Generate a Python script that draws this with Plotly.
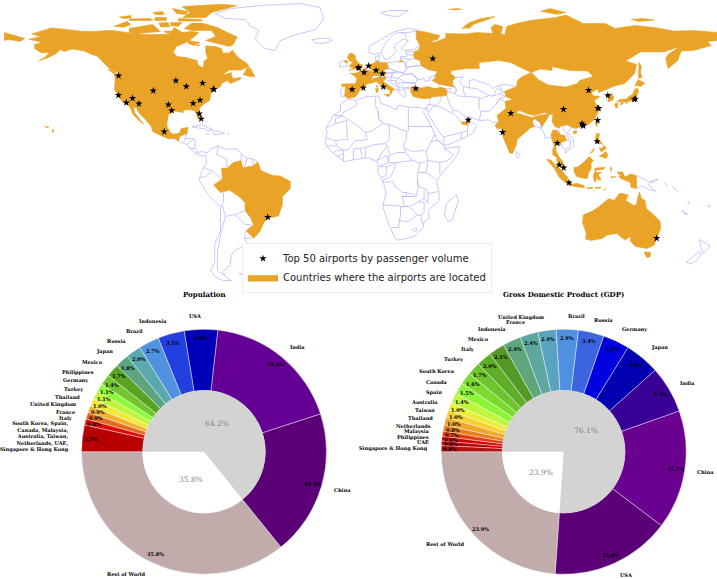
import math
import plotly.graph_objects as go

# ---------- pie data ----------
POP_LABELS = ["Rest of World", "China", "India", "USA", "Indonesia", "Brazil", "Russia", "Japan", "Mexico",
              "Philippines", "Germany", "Turkey", "Thailand", "United Kingdom", "France", "Italy",
              "South Korea, Spain,<br>Canada, Malaysia,<br>Australia, Taiwan,<br>Netherlands, UAE,<br>Singapore & Hong Kong"]
POP_VALUES = [35.8, 19.2, 18.2, 4.4, 3.5, 2.7, 2.0, 1.8, 1.7, 1.4, 1.1, 1.1, 1.0, 0.9, 0.9, 0.8, 3.5]
POP_INNER = [35.8, 64.2]

GDP_LABELS = ["Rest of World", "USA", "China", "India", "Japan", "Germany", "Russia", "Brazil", "United Kingdom",
              "France", "Indonesia", "Mexico", "Italy", "Turkey", "South Korea", "Canada", "Spain", "Australia",
              "Taiwan", "Thailand", "Netherlands", "Malaysia", "Philippines", "UAE", "Singapore & Hong Kong"]
GDP_VALUES = [23.9, 15.8, 15.7, 6.2, 4.6, 3.5, 3.4, 2.9, 2.4, 2.4, 2.4, 2.1, 2.0, 1.7, 1.6, 1.5, 1.4, 1.0, 1.0,
              1.0, 0.8, 0.7, 0.6, 0.6, 0.8]
GDP_INNER = [23.9, 76.1]

POP_COLORS = ["#C2ABAB", "#5C0078", "#650095", "#0000B8", "#2140DE", "#5092E0", "#5CA8B0", "#5BA67F", "#5AA321",
              "#72C62E", "#8EF93A", "#BEF53A", "#EEE93A", "#F5B02E", "#E36A1C", "#E00808", "#B80000"]
GDP_COLORS = ["#C2ABAB", "#5C0078", "#6A0090", "#3A0095", "#0000B0", "#0000E0", "#3B65DF", "#5090E0", "#5AA3C0",
              "#5CA8A0", "#5FA67C", "#549828", "#5FAE28", "#6FC42D", "#7ADA30", "#8CF53A", "#BFF53A", "#E7EF37",
              "#F5D030", "#F0A82A", "#E88020", "#E0400F", "#D00000", "#C00000", "#B01010"]

# ---------- airports (lon, lat) ----------
AIRPORT_LON = [-122.3, -122.4, -118.4, -115.2, -112.0, -104.7, -97.0, -95.3, -93.2, -87.9, -79.6, -84.4, -80.9,
               -73.8, -74.2, -81.3, -80.3, -99.1, -46.5, -0.45, -0.2, 2.5, 4.76, 8.57, 11.8, -3.6, 2.1, 12.25,
               28.8, 37.4, 55.4, 77.1, 72.9, 116.6, 103.9, 121.8, 121.3, 113.3, 113.9, 113.8, 121.2, 126.4,
               139.8, 140.4, 100.7, 121.0, 101.7, 104.0, 106.65, 151.2]
AIRPORT_LAT = [47.4, 37.6, 33.9, 36.1, 33.4, 39.9, 32.9, 30.0, 44.9, 42.0, 43.7, 33.6, 35.2, 40.6, 40.7, 28.4, 25.8,
               19.4, -23.4, 51.5, 51.15, 49.0, 52.3, 50.0, 48.35, 40.5, 41.3, 41.8, 41.0, 55.9, 25.25, 28.6, 19.1,
               40.1, 30.6, 31.1, 31.2, 23.4, 22.3, 22.6, 25.1, 37.5, 35.55, 35.8, 13.7, 14.5, 2.75, 1.35, -6.1, -33.9]

# ---------- filled countries (lon, lat) ----------
NORTH_AMERICA = [(-168,65.6),(-162,67),(-166.5,68.3),(-156.5,71.3),(-148,70.4),(-141,69.6),(-135,69.5),(-128,70),(-125,70),(-115,68.5),(-108,68),(-100,68),(-96,68.2),(-94,71.5),(-90,69),(-85,69.5),(-81.5,69),(-85,66),(-87,64.5),(-93,62),(-94.5,59),(-92.5,57),(-88,56.5),(-82.5,55),(-82,53),(-80,51.5),(-79,52),(-79,54.5),(-77,56),(-78,59),(-78,62.3),(-73,62),(-70,61),(-69.5,58.8),(-66,58.8),(-64.5,60.2),(-61.5,56.5),(-57,53.5),(-56,52),(-60,50.3),(-66,50.2),(-70,47.5),(-65,49),(-65,47.5),(-64,46),(-60,46.5),(-60.5,45.5),(-65.5,43.5),(-66.5,44.5),(-67,45),(-70,43.5),(-70.5,41.8),(-74,40.6),(-75.5,38),(-76,35),(-78,33.9),(-81,31.5),(-81.5,30),(-80,26.8),(-80.5,25.2),(-81.8,26),(-82.8,28.5),(-84,30),(-86,30.4),(-89.5,30.2),(-89.3,29),(-93.8,29.7),(-97,28),(-97.5,25),(-97.8,22.3),(-96,19),(-94.5,18.2),(-91.5,18.5),(-90.5,21),(-87,21.5),(-87.5,18.5),(-89.1,17.9),(-91,17.2),(-92,14.6),(-94,16),(-97,15.9),(-101,17.5),(-105,19.5),(-105.7,22),(-108.5,25.3),(-112.5,29.5),(-113,31.3),(-114.7,31.7),(-114.2,29),(-111.5,25.5),(-109.5,23.2),(-112,25),(-115,28),(-116,30.5),(-117.1,32.5),(-120.6,34.5),(-122.5,37.5),(-124.4,40.4),(-124,46),(-124.7,48.4),(-122.5,48.2),(-122.8,49.1),(-127,51),(-130.5,54.5),(-133,57),(-137,58.5),(-140,59.8),(-146,60.8),(-150,59.5),(-152,60.5),(-154,58.5),(-158,56.5),(-163,54.7),(-160,56.5),(-157.5,58.8),(-162,59),(-165,61),(-165,63),(-161,64),(-168,65.6)]
VANCOUVER = [(-128,50.8),(-125,50),(-123.5,48.5),(-125.5,48.8)]
NEWFOUNDLAND = [(-59,47.7),(-57,51.2),(-55.5,51.5),(-53,47),(-55.5,46.9)]
BAFFIN = [(-80,73.7),(-72,71.5),(-67,69),(-62,66.8),(-64,63),(-66,62),(-72,63.5),(-78,65),(-73,67),(-75,70),(-85,70),(-89,71),(-85,73.7)]
VICTORIA = [(-117,71),(-105,73),(-101,69.5),(-113,68.5),(-117,69)]
BANKS = [(-125,72),(-118,74.5),(-116,73),(-120,71.5)]
ELLESMERE = [(-90,76.5),(-78,76.5),(-75,79),(-62,82.5),(-70,83.1),(-90,82),(-86,79)]
DEVON = [(-92,76),(-80,75.5),(-80,74.7),(-92,74.7)]
MELVILLE = [(-117,75.8),(-106,76),(-105,75),(-117,75)]
AXEL = [(-95,81),(-87,79.5),(-88,78),(-93,78.5)]
SOMERSET = [(-96,74),(-90,74),(-92,72),(-96,72.5)]
SOUTHAMPTON = [(-87,65),(-81,64),(-84,62.5),(-87,63.5)]
PRINCE_PATRICK = [(-122,76.8),(-116,77.5),(-116,76.3),(-120,76)]
BATHURST = [(-104,76.5),(-98,76.5),(-98,75),(-104,75)]
ELLEF = [(-105,79),(-100,79.5),(-99,78),(-104,78)]
PRINCE_OF_WALES = [(-102,73.8),(-97,74),(-96.5,71.8),(-101,71.8)]
KING_WILLIAM = [(-99,69.7),(-95,69.7),(-95.5,68.6),(-98.5,68.8)]
COATS = [(-83,62.9),(-81,62.8),(-82,62.1)]
HAWAII = [(-156,20.8),(-155,19.7),(-155.7,19),(-156,19.8)]
HAWAII2 = [(-160,22.2),(-158,21.7),(-158,21.3),(-159.5,21.8)]
CHUKOTKA = [(-180.5,69),(-175,67.5),(-170,66),(-172.5,64.5),(-178,65.5),(-180.5,65)]
RUSSIA = [(29,69.7),(33,69.4),(41,67.5),(40,65.5),(36,64.5),(35,66),(33,66.5),(38,64),(44,66.2),(44,68.5),(54,68.3),(60,69),(68,68.5),(67,71.5),(69,73),(73,72),(72,68),(74,68),(75,72),(80,73.5),(87,75),(100,76.5),(105,77.7),(113,74),(113,73.5),(125,73.5),(130,71),(140,72.5),(150,71.5),(160,69.7),(170,70),(182,69),(182,65),(177,64.5),(179,62.5),(170,60),(164,59.8),(163,58),(162,55),(157,51),(155.8,56),(157,58),(163,62),(155,59.3),(143,59.3),(135.5,54.7),(141,53),(140,48.5),(135,43.5),(131,42.5),(131,43),(131,45),(135,48.4),(131,47.7),(127.5,49.8),(125.5,53),(120,53.3),(116,49.8),(107,50),(98,52),(98,50),(92,50.7),(87.5,49),(83,51),(77,54),(71,55),(61,54),(61,51),(55,51),(47,50),(46.5,48.5),(49,46.5),(47.5,45),(47.5,43),(48.5,41.8),(44,42.5),(40,43.5),(37,45),(39.5,47),(38.2,47.1),(40,49.5),(35,50.5),(31.5,52.5),(31,55),(28,56),(27.7,57.5),(28,59.5),(30,60),(31,62.5),(29,66)]
KALININGRAD = [(19.8,54.4),(22.7,54.4),(21,55.3)]
NOVAYA = [(52,71),(56,74),(62,76),(69,77),(66,75.8),(58,73),(56,71)]
FRANZ = [(45,80.5),(50,81),(52,80.6),(48,80.3)]
SEVERNAYA = [(92,79.5),(97,81),(105,79),(100,78)]
SIBERIAN = [(138,75.5),(144,76),(150,75.3),(142,74.5)]
SAKHALIN = [(142,54.3),(143.5,52),(143,49),(143.8,46.5),(142,46),(142,50)]
CHINA = [(73.7,39.5),(80,42),(80.5,45),(83,47),(87.5,49),(91,45.5),(96,42.8),(105,41.7),(111,43.5),(112,45),(119,47),(116,49.8),(120,53.3),(125.5,53),(127.5,49.8),(131,47.7),(135,48.4),(131,45),(131,43),(130.5,42.5),(128,41.5),(124.5,40),(121.5,39),(121.5,40.8),(118,39),(119,37.3),(122.5,37),(119.5,35),(120.5,33),(122,31.5),(121.5,29),(119.5,25.5),(116.5,23),(113.5,22),(110,21),(108,21.6),(106,22.8),(103,22.5),(101.5,21.2),(99.5,22),(98,24.5),(98.5,27.7),(94,29),(89,27.5),(85,28.5),(81,30.2),(78.7,31.5),(78,35.5),(74.5,37)]
HAINAN = [(108.7,19.5),(110.5,20),(110.5,18.8),(109,18.2)]
TAIWAN = [(121,25),(122,25),(120.8,22),(120.1,23.5)]
INDIA = [(74,34.5),(78,35.5),(78.7,31.5),(81,30.2),(80,28.8),(88,26.5),(89,26.8),(92,27.8),(97,28.2),(95,25),(93,22),(92,24),(89,26),(88,24.5),(89,22),(87,21.3),(85,19.5),(80.3,15.5),(80,13),(78,8.5),(76.5,8.8),(73,17),(72.7,21),(70,21),(69,22.5),(71,24.5),(70,27.5),(74.5,31)]
THAILAND = [(98,20),(100.5,20.3),(102,18),(104.5,17.5),(105.5,15),(102.5,14),(102,12.5),(101,13),(100,13.4),(100,10),(101.5,7),(102,6.2),(100.5,6.5),(98.3,8),(98.5,11),(99.3,12),(98.2,15),(97.5,18)]
MALAY = [(100.2,6.5),(102,6.2),(103.5,4.5),(104.2,1.4),(103.3,1.5),(101.3,3),(100.3,5.5)]
SUMATRA = [(95.3,5.6),(97.5,5.2),(100,2.5),(103,0),(104.5,-2),(106,-3.2),(105.8,-5.8),(104.5,-5.8),(102,-3.8),(100.4,-1),(98.7,1.7),(96,4.5)]
JAVA = [(105.2,-6.8),(106.5,-6),(108.5,-6.7),(110.8,-6.5),(112.7,-7),(114.5,-7.8),(114.3,-8.6),(110,-8.1),(106.5,-7.4)]
SUNDA = [(115.5,-8.7),(119,-8.4),(118.5,-9),(116,-9)]
FLORES = [(120,-8.5),(123,-8.3),(122.5,-8.9),(120,-8.9)]
TIMOR = [(124,-10),(125.5,-9),(125,-9.8)]
BORNEO = [(109,1.5),(111,1.7),(113,3.2),(115,5),(117,7),(119,5),(117.8,3.5),(118,1),(116.5,-1.5),(116,-4),(114.5,-4),(110.5,-3),(109.2,-0.5)]
SULAWESI = [(119.5,0.7),(120.5,1.3),(125,1.5),(124,0.4),(120.8,0.4),(120,-0.8),(121,-1),(123.3,-0.9),(121.5,-2),(123,-4.8),(121.5,-4.7),(120.5,-3),(120.4,-5.6),(119.5,-5.4),(119,-2.8),(119.8,-0.5)]
HALMAHERA = [(127.5,2),(128.5,1),(127.8,-0.7)]
SERAM = [(128,-3),(130.5,-3.2),(128,-3.6)]
PAPUA_WEST = [(131,-0.8),(134,-0.8),(135,-3.3),(138,-1.7),(141,-2.6),(141,-9.1),(138,-8.3),(138,-6),(133,-4),(132,-2.8),(133.8,-2.3),(132,-2)]
LUZON = [(120.5,18.5),(122.2,18.4),(121.6,15.5),(124,13),(122,13.7),(120.5,14),(120,16)]
MINDANAO = [(122,7),(125.5,9.5),(126.5,7.5),(125.5,6),(124,6.5)]
VISAYAS = [(122,11.5),(123,11),(125,12.5),(125.5,11),(123.5,9.5),(122.4,9.8)]
PALAWAN = [(117.3,8.4),(119.5,11.3),(119.3,10),(117.8,8.5)]
HONSHU = [(130.9,34),(132.5,35.5),(136,35.8),(137,37),(139,38),(140,40.5),(141.4,41.3),(142,39.5),(140.9,36.5),(140,35),(137,34.6),(135.7,33.5),(135,34.5),(132.5,34.2)]
HOKKAIDO = [(140,42),(141.7,45.4),(145.3,43.7),(143,42),(141,42.5)]
KYUSHU = [(129.7,33.3),(131.5,33.6),(131.3,31.4),(130.3,31.2)]
SHIKOKU = [(132.5,33.2),(134.5,34.2),(134,33.3),(132.8,32.8)]
SOUTH_KOREA = [(126.2,37.7),(128.4,38.6),(129.4,36.5),(129,35.2),(126.5,34.4),(126.5,36.5)]
AUSTRALIA = [(114,-22),(113.5,-26),(115.5,-31.5),(115,-34.3),(118,-35),(123.5,-34),(126,-32.3),(131,-31.5),(135,-34.8),(138,-33),(138,-35.5),(140.5,-38),(146.3,-39),(150,-37.3),(151.2,-34),(153.3,-29),(153,-25.5),(149.5,-22),(146,-19),(145.3,-15),(143.5,-14),(142.5,-10.8),(141.7,-13),(141,-17),(139.5,-17.5),(135.5,-15),(136.8,-12.2),(132.5,-11.3),(129.5,-15),(127,-14),(125,-15.5),(122,-18),(119,-20)]
TASMANIA = [(144.7,-40.8),(148.3,-40.9),(147.8,-43.2),(146,-43.5)]
TURKEY = [(26,40.2),(29,41.2),(31.5,41.2),(35,42),(38,41),(41.5,41.5),(43.5,41),(44.8,39.7),(44.5,37.5),(42,37.2),(36.7,36.8),(36,36),(32.5,36),(30.5,36.3),(27.5,37),(26.3,39)]
THRACE = [(26.3,41.8),(28,42),(29,41.2),(26.2,40.2)]
SPAIN = [(-9.2,43.2),(-1.8,43.4),(3.2,42.4),(0.5,40.7),(-0.3,39),(-2,36.8),(-5.5,36),(-7.4,37.2),(-7,42),(-8.8,42)]
FRANCE = [(-4.7,48.5),(-1.5,48.7),(1.5,50.2),(2.5,51.1),(4.2,50),(8.2,49),(7.5,47.5),(6,46.2),(7.5,44),(4,43.4),(3.2,42.4),(-1.8,43.4),(-1.2,46),(-2.5,47.3)]
CORSICA = [(9,42.9),(9.5,42),(9,41.4),(8.6,42)]
GERMANY = [(6,51),(7,53.5),(9,54.8),(11,54),(14.2,53.9),(15,51),(12.2,50.3),(13.8,48.7),(13,47.5),(7.5,47.6),(8.2,49),(6.2,50)]
NETHERLANDS = [(3.5,51.4),(4.7,53),(7,53.4),(6,51),(5,51.4)]
BRITAIN = [(-5.5,50),(-3,50.6),(1.4,51.2),(1.7,52.8),(-0.2,53.5),(-1.7,55.5),(-2,57.5),(-3.5,58.6),(-5,58.6),(-6,56.5),(-4.8,54.8),(-3,54),(-4.5,53.2),(-5,51.8),(-3,51.4)]
N_IRELAND = [(-7.5,55),(-5.6,54.7),(-6,54),(-7.8,54.3)]
ITALY = [(7,44),(7,45.9),(10,46.7),(13.7,46.5),(12.3,44.3),(13.7,43.5),(16.2,41.8),(18.5,40.2),(16.8,40.4),(16.8,38.9),(15.8,38),(15.7,40),(12.3,41.7),(10.3,43.2),(8.8,44.4)]
SICILY = [(12.5,38),(15.6,38.2),(15.1,36.7)]
SARDINIA = [(8.2,41),(9.7,41),(9.6,39.2),(8.5,39)]
UAE = [(51.6,24.2),(54,24.2),(56.2,26),(56.3,24.9),(55.2,22.7),(52.6,22.9)]
BRAZIL = [(-60,5),(-64,4),(-67,1.2),(-70,1.2),(-69.5,-4.2),(-74,-7.2),(-70.5,-11),(-66,-9.8),(-60.5,-13.5),(-58,-16.3),(-58,-20),(-55,-24),(-54.5,-25.7),(-53.7,-27),(-57.5,-30.2),(-53.5,-33.7),(-50.5,-30.5),(-48.5,-26),(-46.5,-24),(-41,-22.7),(-39,-17),(-39,-13),(-35,-9),(-35,-5.5),(-40,-2.8),(-44,-2.5),(-50,0),(-51.5,4.3),(-54,2.3),(-56.5,1.9),(-59,1.3)]

FILLED = [NORTH_AMERICA, VANCOUVER, NEWFOUNDLAND, BAFFIN, VICTORIA, BANKS, ELLESMERE, DEVON, MELVILLE, AXEL, SOMERSET,
          SOUTHAMPTON, PRINCE_PATRICK, BATHURST, ELLEF, PRINCE_OF_WALES, KING_WILLIAM, COATS,
          HAWAII, HAWAII2, CHUKOTKA, RUSSIA, KALININGRAD, NOVAYA, FRANZ, SEVERNAYA, SIBERIAN, SAKHALIN,
          CHINA, HAINAN, TAIWAN, INDIA, THAILAND, MALAY, SUMATRA, JAVA, SUNDA, FLORES, TIMOR, BORNEO, SULAWESI,
          HALMAHERA, SERAM, PAPUA_WEST, LUZON, MINDANAO, VISAYAS, PALAWAN, HONSHU, HOKKAIDO, KYUSHU, SHIKOKU,
          SOUTH_KOREA, AUSTRALIA, TASMANIA, TURKEY, THRACE, SPAIN, FRANCE, CORSICA, GERMANY, NETHERLANDS, BRITAIN,
          N_IRELAND, ITALY, SICILY, SARDINIA, UAE, BRAZIL]

# ---------- unfilled outlines (lon, lat) ----------
OUTLINES = [
    [(-73,78.5),(-65,81),(-50,82.5),(-30,83.5),(-20,81.5),(-18,76),(-22,70.5),(-32,68),(-40,65),(-43,60),(-48,61),(-53,66),(-51,70),(-55,72),(-58,75.5),(-68,76),(-73,78.5)],
    [(-24,65.5),(-20,66),(-15,66.2),(-13.7,65),(-18,63.5),(-22.5,63.9),(-24,65.5)],
    [(11,79),(16,80),(25,80),(20,77),(14,77.5),(11,79)],
    [(5,59),(5,62),(12,66),(18,69.5),(25,71),(31,70),(29,69.7),(29,66),(31,62.5),(28,60.5),(23,60),(21.5,61),(25,65),(22,65.8),(17.5,62),(19,60),(16.5,57),(14.3,55.5),(12.7,56),(11,59),(8,58),(5,59)],
    [(11,59),(12,61),(14,64.5),(18,68.5),(20.5,69),(25,69),(29,69.7)],
    [(24,66),(23.5,68),(20.5,69)],
    [(8,55),(8.5,57),(10.5,57.5),(10,55),(8,55)],
    [(-10,54),(-8,55.2),(-6,53.5),(-6.3,52.2),(-10,51.6),(-10,54)],
    [(-8.8,42),(-9.5,38.7),(-8.8,37),(-7.4,37.2)],
    [(2.5,51.1),(3.5,51.4),(5,51.4),(6,51),(6.2,50),(4.2,50),(2.5,51.1)],
    [(6,46.2),(7.5,47.5),(9.5,47.5),(10.4,46.8),(9,46),(7,45.9),(6,46.2)],
    [(9.5,47.5),(13,47.5),(13.8,48.7),(17,48.8),(16.2,46.8),(13.7,46.5),(10,46.7)],
    [(14.2,53.9),(19,54.4),(23,54.3),(24,50.5),(22.5,49),(19,49.5),(15,51)],
    [(12.2,50.3),(15,51),(19,49.5),(17,48.8),(13.8,48.7)],
    [(17,48.8),(22.5,49),(22.2,48),(20,46.2),(16.5,46.5),(17,48.8)],
    [(22.2,48),(27,48.3),(29.7,45.3),(28.5,43.7),(25,43.7),(22.5,44.2),(20.5,46)],
    [(22.5,44.2),(28.5,43.7),(28,42),(26.3,41.8),(23,41.3)],
    [(13.7,45.5),(15,44.5),(18.5,42.5),(19.5,41.5),(19.3,40.3),(20.8,40),(23,41.3)],
    [(19.3,39.8),(21,38.3),(22.8,36.5),(23.7,38),(22.8,40.3),(24,40.8),(26.3,41)],
    [(16.5,46.5),(15.5,45),(17,45),(19,44.8),(20,46.2)],
    [(19,44.8),(19,43),(20,42),(20.8,40)],
    [(19,43),(22,44)], [(20,42),(23,41.3)], [(22.5,44.2),(22.3,42.5)],
    [(24,50.5),(22.5,49),(22.2,48),(27,48.3),(29.7,45.3),(33,46),(33.5,44.5),(36.5,45.3),(35,46.3),(38.2,47.1),(40,49.5),(35,50.5),(31.5,52.5),(24,51.7),(24,50.5)],
    [(23.5,53.7),(26,55.5),(28,56),(31,55),(31.5,52.5),(24,51.7),(23.5,53.7)],
    [(21,55.3),(21,57),(24,57),(24.2,58.3),(23.5,59.2),(28,59.5),(27.7,57.5)],
    [(26,55.5),(21,56.2)], [(24.3,58),(27.5,57.6)], [(27,48.3),(30,46)],
    [(40,43.5),(48.5,41.8),(49.5,40.3),(48.8,38.5),(46,39),(44.8,39.7),(43.5,41),(41.5,41.5),(40,43.5)],
    [(43.5,41),(46.5,41),(46,39)],
    [(47.5,45),(49,46.5),(53,46.8),(51,44.5),(53,42),(53,39.5),(54,37),(50,37.3),(48.8,38.5),(49.5,40.3),(48.5,41.8),(47.5,43),(47.5,45)],
    [(53,42),(56,41.3),(56,45),(58.5,45.5),(61,44.5),(66,43),(68,41),(71,42.5),(74,43),(80,42)],
    [(56,41.3),(60,41),(62,39.5),(66,37.5),(61,35.5),(61,36.6),(54,37)],
    [(66,37.5),(68,37.2),(70,41),(73,40),(71,42.5)],
    [(68,37.2),(71.5,38.5),(73.7,39.5)],
    [(61,35.5),(61,31),(62,29.5),(66.5,29.8),(69.5,33),(71.5,36),(74.5,37),(71.5,38.5)],
    [(61,25),(62,29.5)], [(71,24.5),(68,23.7),(66,25.3),(61,25)],
    [(69.5,33),(71.5,36),(74,34.5)],
    [(44.5,37.5),(45,36),(46,33),(48,30),(50,30),(54,26.7),(57,26.5),(61,25)],
    [(42,37.2),(41,34.5),(39,32.5),(42,31.5),(46.5,29),(48,30)],
    [(36.7,36.8),(36,35),(35.7,34.5),(36,33),(39,32.5)],
    [(35,29.5),(34.3,31.3),(35,33),(36,33)], [(39,32.5),(37,31.5),(36,30),(35,29.5)],
    [(35,29.5),(35,28),(37,25),(38.8,22),(40,20),(43,16.7),(43,12.8),(45,12.8),(52,15.8),(55,17),(58,19),(59.8,22.5),(58,23.8),(56.3,24.9)],
    [(46.5,29),(48.5,28),(50,26.5),(51.6,24.2)],
    [(55.2,22.7),(55,20),(52,19),(48.8,18.2),(45,17.4),(43,16.7)], [(52,19),(52,15.8)], [(55,20),(55,17)],
    [(92,24),(93,22),(92.3,21),(94.3,18),(94.5,16),(97,16.8),(98.2,15),(99.3,12),(98.5,10)],
    [(88,24.5),(89,26),(92,24),(92.3,21),(90,22),(89,22),(88,24.5)],
    [(103,22.5),(106,22.8),(108,21.6),(105.8,19),(108.8,15.5),(109.2,12),(106.7,10.5),(105,8.7),(104.8,10.5),(102.8,12),(102.5,14)],
    [(105.5,15),(107.5,14.5),(107,11.5),(104.8,10.5)],
    [(101.5,21.2),(102,18)], [(107.5,14.5),(105,19),(103,22.5)],
    [(80,9.7),(81.8,7.5),(80.5,6),(79.8,8),(80,9.7)],
    [(-5.8,35.8),(-1.8,35),(3,36.8),(10,37.3),(11,33.5),(15,32.3),(19,30.3),(20,32.7),(25,31.7),(31,31.5),(32.5,31),(34.3,31.3),(32.5,29.5),(34,27),(35.5,24),(37.2,21),(39.5,15.5),(43,12.5),(43.5,11),(51,12),(50,8),(47,4),(42,-1.5),(39.3,-6),(40.5,-10.5),(40.7,-15),(35,-20),(35.5,-24),(32.8,-26),(32.5,-28.5),(28,-33),(20,-34.8),(18.4,-34),(15,-27),(12,-18),(13.7,-11),(12,-5),(9.5,-1),(9.5,4),(8.5,4.7),(4.5,6.3),(1,6),(-4,5.2),(-7.5,4.5),(-13,8.5),(-16.8,12.5),(-17.4,14.7),(-16.2,19),(-17,21),(-13,27.7),(-9.5,30),(-9.5,33),(-5.8,35.8)],
    [(-1.8,35),(-1.2,32.5),(-5,30.5),(-8.7,28.7),(-8.7,27.3),(-13,27.7)],
    [(-8.7,27.3),(-12,26),(-12,23.4),(-17,21)],
    [(-8.7,27.3),(-4.8,25),(1,21),(3.2,19),(6,19.5),(12,23.5),(9.8,26),(9.5,30),(8,33),(8.5,36.9)],
    [(-12,23.4),(-6.5,25),(-6,15.5),(-12,15),(-16.5,16.2)],
    [(3.2,19),(4,15.5),(1,15),(-2,15),(-5.5,10.5),(-8,10.2),(-11.5,12.3),(-12,15)],
    [(9.5,30),(10,25.5),(12,23.5),(15,23),(24,19.5),(25,20),(25,31.7)],
    [(25,22),(37,22)],
    [(15,23),(15.5,16),(13.5,13.5),(14,12.5),(15,10),(15.5,7.5),(19,9),(23.5,9),(22.5,13),(24,15.5),(24,19.5)],
    [(3,6.3),(3.5,11.7),(8,13),(13.5,13.5)], [(14,12),(9,5)],
    [(1.5,6.2),(0.5,11),(3.5,11.7)], [(-3,5),(-2.8,11),(0.5,11)], [(-8,4.5),(-8,10.2)], [(-11.5,7),(-8,8.5)],
    [(-13.5,9),(-11,10),(-8,10.2)], [(-16.7,12.4),(-11.5,12.3)],
    [(38.5,18),(36.5,14.5),(34,9),(35,5),(41,4),(45,5),(48,8),(43,11)],
    [(23.5,9),(27,5),(31,3.7),(35,5)], [(23.5,11),(27,9.5),(33,10),(34,9)], [(36.5,14.5),(40,15),(43,12.5)],
    [(35,5),(34,-1),(37.7,-3.5),(39.5,-4.5)], [(41,-1.7),(41,4)],
    [(31,3.7),(29.8,-1),(34,-1)], [(29.8,-1),(29.5,-4.5),(30.5,-8.2),(34.5,-9.5),(34.8,-11.5),(40.5,-10.5)],
    [(12,-5),(13,-6),(17,-5.5),(18,-8),(22,-11),(24,-11),(28,-12),(29,-13),(30,-8.5),(29.5,-4.5)],
    [(27,5),(19,4),(18,1),(16,-3),(12,-5)],
    [(15,7.5),(15,4),(19,4)], [(9,5),(14,7.5),(15,4),(10,2)], [(10,2),(14,1.8),(18,3.5)], [(14,1.8),(13.5,-2.5),(11,-3.5)],
    [(12,-17.2),(23,-18),(22,-13),(24,-13),(24,-11)], [(23,-18),(25,-17.8),(21,-18.3),(21,-22),(20,-28.5),(16.5,-28.5)],
    [(20,-25),(25,-25.7),(29.4,-22.2),(25.5,-18)], [(25.5,-18),(30,-15.7),(33,-16),(33,-21),(31.3,-22.4),(29.4,-22.2)],
    [(22,-13),(29,-13)], [(30,-15.7),(33,-14),(33,-9.5)], [(33,-14),(35,-16.5),(35,-11.5)], [(31.3,-22.4),(32,-26.8)],
    [(27,-29.5),(29,-28.7),(29.3,-30),(28,-30.6),(27,-29.5)],
    [(49.4,-12),(50.5,-15.5),(47,-25),(45,-25.5),(43.3,-22),(44.5,-16.2),(49.4,-12)],
    [(-87.5,18.5),(-88.5,16),(-84,15.8),(-83.3,15),(-83.6,11),(-82,9),(-79.5,9.5),(-77.3,8.7),(-75.5,10.8),(-71.5,12.3),(-68,10.7),(-62,10.7),(-60,8.5),(-57,6),(-54,5.8),(-51.5,4.3)],
    [(-92,14.6),(-87.5,13),(-85.8,10.8),(-83,8.2),(-80,7.3),(-78,7.5),(-77.5,4),(-79,1.5),(-80.8,-2.5),(-81.3,-5),(-77,-12),(-70.5,-18.3),(-70.5,-30),(-73.5,-37),(-73.5,-46),(-75.5,-50),(-73,-53.5),(-69,-55),(-65,-55),(-68.5,-52.5),(-69,-50.5),(-65.5,-47),(-65,-42),(-62,-39),(-57,-38),(-57,-36),(-58.4,-34),(-53.5,-33.7)],
    [(-71.5,12.3),(-72.5,8),(-67.5,6),(-67,1.2)], [(-79,1.5),(-75,0),(-70,-4.2)], [(-80.8,-3.5),(-78,-3),(-75,0)],
    [(-70.5,-18.3),(-69,-16),(-69,-11)], [(-69.5,-17.5),(-68,-23),(-70,-30),(-72,-40),(-72,-50),(-68.5,-52.5)],
    [(-68,-23),(-63,-22),(-58,-20)], [(-63,-22),(-58,-27),(-55,-27)], [(-58.4,-34),(-57.5,-30.2)],
    [(-60,8.5),(-60,5)], [(-57,6),(-58.5,1.3)], [(-54,5.8),(-54,2.3)],
    [(-88.5,16),(-89.2,14.3)], [(-87.5,13),(-84,15.8)], [(-85.8,11),(-83.7,11)], [(-83,8.2),(-82.5,9.3)],
    [(-85,21.8),(-80,23),(-74.2,20.2),(-77.5,19.9),(-78,20.7),(-85,21.8)],
    [(-74.4,18.5),(-73,19.9),(-68.4,18.6),(-71,18),(-74.4,18.2)],
    [(-78.3,18.3),(-76.3,18.2)], [(-67.2,18.3),(-65.7,18.3)], [(-78,25),(-77.5,24)],
    [(-61,-51.5),(-58,-51.4),(-59,-52.3),(-61,-51.5)],
    [(172.7,-34.5),(178.5,-37.7),(175,-41.5),(174,-39),(172.7,-34.5)],
    [(172.7,-40.6),(174.2,-41.7),(171,-45.5),(168,-46.7),(166.5,-45.8),(172.7,-40.6)],
    [(141,-2.6),(145,-4.3),(148,-6),(147,-7),(150.5,-10.3),(147,-9.5),(144,-7.7),(141,-9.1)],
    [(148,-5.5),(152,-4.2),(150,-6),(148,-5.5)], [(155,-6),(157,-8)], [(159,-8),(162,-10.5)],
    [(164,-20),(167,-22),(165,-21.5),(164,-20)], [(167,-15),(168,-17)], [(177.3,-17.5),(178.5,-18),(177.5,-18.3),(177.3,-17.5)],
]

ORANGE = "#E9A327"
EDGE = "#B9B9FF"


def flatten(shapes):
    xs, ys = [], []
    for shape in shapes:
        xs += [p[0] for p in shape] + [None]
        ys += [p[1] for p in shape] + [None]
    return xs, ys


W, H = 717, 579
MAP_BOTTOM = 285
fig = go.Figure()

ox, oy = flatten(OUTLINES)
fig.add_trace(go.Scatter(x=ox, y=oy, mode="lines", line=dict(color=EDGE, width=0.8, simplify=False), showlegend=False, hoverinfo="skip"))
fx, fy = flatten(FILLED)
fig.add_trace(go.Scatter(x=fx, y=fy, mode="lines", fill="toself", fillcolor=ORANGE, line=dict(color=ORANGE, width=0.6, simplify=False),
                         name="Countries where the airports are located", legendrank=2, hoverinfo="skip"))
fig.add_trace(go.Scatter(x=AIRPORT_LON, y=AIRPORT_LAT, mode="markers", marker=dict(symbol="star", size=5.5, color="black"),
                         name="Top 50 airports by passenger volume", legendrank=1, hoverinfo="skip"))

annotations = []


def add_text(px, py, text, size, color="black", bold=True, xanchor="center"):
    annotations.append(dict(
        x=px / W, y=1 - py / H, xref="paper", yref="paper", text=f"<b>{text}</b>" if bold else text,
        showarrow=False, xanchor=xanchor, yanchor="middle", align=xanchor if xanchor != "center" else "center",
        font=dict(family="DejaVu Serif", size=size, color=color), borderpad=0, borderwidth=0))


def add_donut(title, cx, cy, labels, values, colors, inner):
    R, r = 122.5, 61.5
    total = sum(values)
    # With a counterclockwise pie plotly measures rotation at the clockwise end of the first slice.
    fig.add_trace(go.Pie(values=values, labels=labels, sort=False, direction="counterclockwise",
                         rotation=270 - 360 * values[0] / total, hole=0.5,
                         marker=dict(colors=colors, line=dict(color="rgba(255,255,255,0.7)", width=0.6)),
                         textinfo="none", hoverinfo="skip", showlegend=False,
                         domain=dict(x=[(cx - R) / W, (cx + R) / W], y=[1 - (cy + R) / H, 1 - (cy - R) / H])))
    fig.add_trace(go.Pie(values=inner, sort=False, direction="counterclockwise",
                         rotation=270 - 360 * inner[0] / sum(inner),
                         marker=dict(colors=["#FFFFFF", "#D3D3D3"], line=dict(width=0)),
                         textinfo="none", hoverinfo="skip", showlegend=False,
                         domain=dict(x=[(cx - r) / W, (cx + r) / W], y=[1 - (cy + r) / H, 1 - (cy - r) / H])))
    cum = 0.0
    for lab, v in zip(labels, values):
        a = math.radians(180 + 360 * (cum + v / 2) / total)
        cum += v
        ca, sa = math.cos(a), math.sin(a)
        add_text(cx + 1.105 * R * ca, cy - 1.105 * R * sa, lab, 5, xanchor="right" if ca < 0 else "left")
        add_text(cx + 0.925 * R * ca, cy - 0.925 * R * sa, f"{v:.1f}%", 5)
    cum = 0.0
    for v in inner:
        a = math.radians(180 + 3.6 * (cum + v / 2))
        cum += v
        add_text(cx + 0.5 * r * math.cos(a), cy - 0.5 * r * math.sin(a), f"{v:.1f}%", 7.5, color="#808080", bold=False)
    add_text(cx, 294.5, title, 7)


add_donut("Population", 204, 451.7, POP_LABELS, POP_VALUES, POP_COLORS, POP_INNER)
add_donut("Gross Domestic Product (GDP)", 563.7, 451.7, GDP_LABELS, GDP_VALUES, GDP_COLORS, GDP_INNER)

fig.update_layout(
    width=W, height=H, margin=dict(l=0, r=0, t=0, b=0), paper_bgcolor="white", plot_bgcolor="white",
    xaxis=dict(visible=False, range=[-182.6, 181.9], domain=[0, 1]),
    yaxis=dict(visible=False, range=[-57.25, 85.25], domain=[1 - MAP_BOTTOM / H, 1]),
    legend=dict(x=242 / W, y=1 - 243 / H, xanchor="left", yanchor="top", bgcolor="white", bordercolor="#EEEEEE",
                borderwidth=1, font=dict(family="DejaVu Sans", size=10, color="#222222"), itemwidth=30, tracegroupgap=0),
    annotations=annotations, showlegend=True, autosize=False,
)
fig.write_html("out.html", config={"displayModeBar": False}, post_script="document.body.style.margin='0';")
